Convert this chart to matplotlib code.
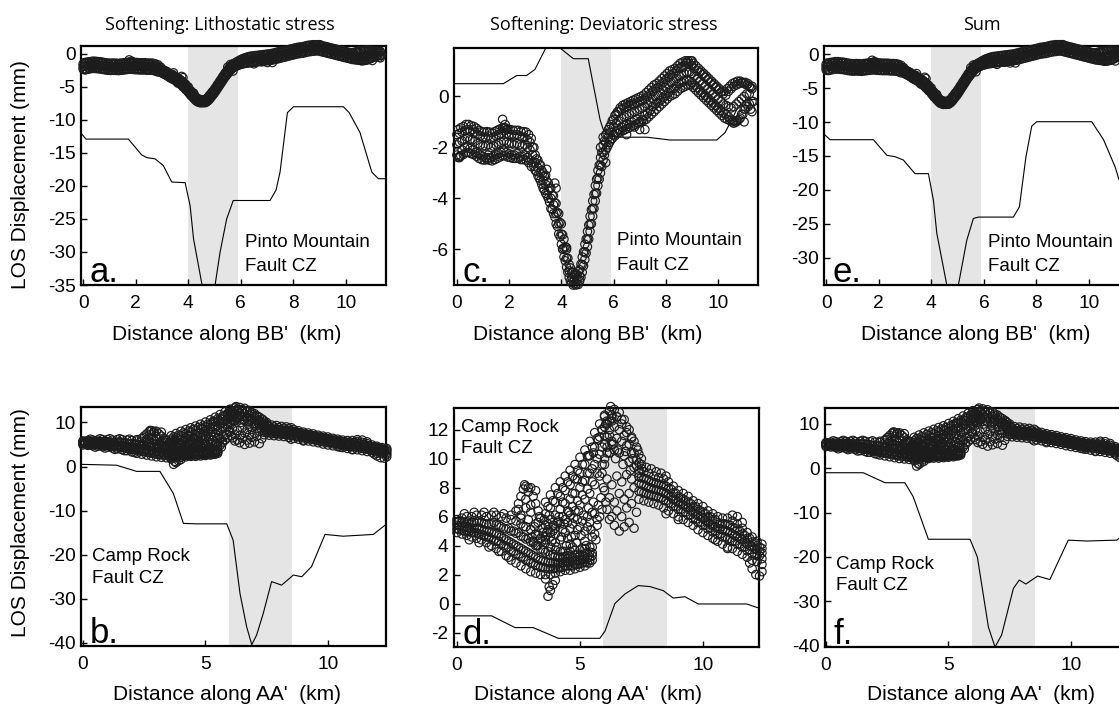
import matplotlib
matplotlib.use('Agg')
import matplotlib.pyplot as plt

plt.rcParams['font.family'] = ['Liberation Sans', 'DejaVu Sans']
plt.rcParams['axes.unicode_minus'] = False

# ---------------- observed LOS data, profile BB' (top row) ----------------
bb_x = [0.0, 0.1, 0.2, 0.3, 0.4, 0.5, 0.6, 0.7, 0.8, 0.9,
        1.0, 1.1, 1.2, 1.3, 1.4, 1.5, 1.6, 1.7, 1.8, 1.9,
        2.0, 2.1, 2.2, 2.3, 2.4, 2.5, 2.6, 2.7, 2.8, 2.9,
        3.0, 3.1, 3.2, 3.3, 3.4, 3.5, 3.6, 3.7, 3.8, 3.9,
        4.0, 4.1, 4.2, 4.3, 4.4, 4.5, 4.6, 4.7, 4.8, 4.9,
        5.0, 5.1, 5.2, 5.3, 5.4, 5.5, 5.6, 5.7, 5.8, 5.9,
        6.0, 6.1, 6.2, 6.3, 6.4, 6.5, 6.6, 6.7, 6.8, 6.9,
        7.0, 7.1, 7.2, 7.3, 7.4, 7.5, 7.6, 7.7, 7.8, 7.9,
        8.0, 8.1, 8.2, 8.3, 8.4, 8.5, 8.6, 8.7, 8.8, 8.9,
        9.0, 9.1, 9.2, 9.3, 9.4, 9.5, 9.6, 9.7, 9.8, 9.9,
        10.0, 10.1, 10.2, 10.3, 10.4, 10.5, 10.6, 10.7, 10.8, 10.9,
        11.0, 11.1, 11.2, 11.3]
bb_hi = [-1.5, -1.45, -1.4, -1.35, -1.3, -1.35, -1.3, -1.4, -1.5, -1.55,
         -1.6, -1.6, -1.55, -1.65, -1.6, -1.55, -1.5, -1.45, -1.35, -1.45,
         -1.5, -1.5, -1.55, -1.5, -1.55, -1.6, -1.6, -1.7, -1.8, -2.0,
         -2.3, -2.5, -2.7, -3.0, -3.1, -3.4, -3.6, -3.9, -4.2, -4.6,
         -5.0, -5.6, -6.0, -6.6, -6.9, -7.0, -7.0, -6.8, -6.3, -5.8,
         -5.3, -4.7, -4.1, -3.5, -2.9, -2.4, -1.9, -1.5, -1.3, -1.1,
         -0.9, -0.7, -0.6, -0.5, -0.45, -0.4, -0.35, -0.3, -0.3, -0.25,
         -0.2, -0.15, -0.1, 0.0, 0.1, 0.2, 0.3, 0.35, 0.45, 0.55,
         0.65, 0.75, 0.85, 0.9, 1.0, 1.1, 1.15, 1.2, 1.3, 1.3,
         1.2, 1.1, 1.0, 0.95, 0.85, 0.75, 0.65, 0.55, 0.45, 0.35,
         0.25, 0.15, 0.1, 0.05, 0.2, 0.3, 0.4, 0.45, 0.5, 0.55,
         0.5, 0.45, 0.4, 0.3]
bb_mid = [-1.9, -1.8, -1.75, -1.7, -1.6, -1.7, -1.7, -1.75, -1.85, -1.9,
          -1.95, -1.95, -1.9, -2.0, -1.95, -1.9, -1.85, -1.8, -1.75, -1.8,
          -1.85, -1.85, -1.9, -1.85, -1.9, -1.95, -1.9, -2.0, -2.1, -2.3,
          -2.6, -2.8, -3.0, -3.3, -3.45, -3.7, -4.0, -4.25, -4.6, -5.0,
          -5.4, -5.95, -6.35, -6.85, -7.1, -7.2, -7.2, -7.05, -6.6, -6.1,
          -5.6, -5.0, -4.4, -3.8, -3.2, -2.7, -2.2, -1.8, -1.6, -1.4,
          -1.2, -1.05, -0.95, -0.85, -0.8, -0.75, -0.7, -0.65, -0.6, -0.55,
          -0.5, -0.45, -0.4, -0.3, -0.2, -0.1, 0.0, 0.05, 0.15, 0.25,
          0.35, 0.45, 0.55, 0.6, 0.7, 0.8, 0.85, 0.9, 0.95, 0.95,
          0.9, 0.8, 0.7, 0.6, 0.5, 0.4, 0.3, 0.2, 0.1, 0.0,
          -0.1, -0.2, -0.3, -0.35, -0.4, -0.45, -0.4, -0.3, -0.2, -0.1,
          0.0, 0.1, 0.1, -0.2]
bb_lo = [-2.3, -2.35, -2.1, -2.0, -1.95, -2.05, -2.1, -2.2, -2.25, -2.3,
         -2.35, -2.4, -2.3, -2.4, -2.35, -2.3, -2.25, -2.2, -2.15, -2.2,
         -2.25, -2.3, -2.3, -2.25, -2.35, -2.35, -2.3, -2.4, -2.5, -2.6,
         -2.9, -3.1, -3.3, -3.6, -3.8, -4.0, -4.4, -4.6, -5.0, -5.4,
         -5.8, -6.3, -6.7, -7.1, -7.3, -7.35, -7.35, -7.25, -6.9, -6.4,
         -5.9, -5.3, -4.7, -4.1, -3.5, -3.0, -2.5, -2.1, -1.9, -1.7,
         -1.5, -1.4, -1.3, -1.2, -1.15, -1.1, -1.1, -1.0, -0.95, -0.9,
         -1.0, -0.9, -0.75, -0.65, -0.55, -0.4, -0.3, -0.25, -0.15, -0.05,
         0.05, 0.15, 0.25, 0.3, 0.4, 0.5, 0.55, 0.6, 0.65, 0.6,
         0.55, 0.45, 0.35, 0.25, 0.15, 0.05, -0.05, -0.15, -0.25, -0.35,
         -0.45, -0.55, -0.65, -0.7, -0.8, -0.9, -0.95, -1.0, -0.9, -0.7,
         -0.5, -0.3, -0.3, -0.6]
bb_x2 = [0.05, 0.15, 0.25, 0.35, 0.45, 0.55, 0.65, 0.75, 0.85, 0.95,
         1.05, 1.15, 1.25, 1.35, 1.45, 1.55, 1.65, 1.75, 1.85, 1.95,
         2.05, 2.15, 2.25, 2.35, 2.45, 2.55, 2.65, 2.75, 2.85, 2.95,
         3.05, 3.15, 3.25, 3.35, 3.45, 3.55, 3.65, 3.75, 3.85, 3.95,
         4.05, 4.15, 4.25, 4.35, 4.45, 4.55, 4.65, 4.75, 4.85, 4.95,
         5.05, 5.15, 5.25, 5.35, 5.45, 5.55, 5.65, 5.75, 5.85, 5.95,
         6.05, 6.15, 6.25, 6.35, 6.45, 6.55, 6.65, 6.75, 6.85, 6.95,
         7.05, 7.15, 7.25, 7.35, 7.45, 7.55, 7.65, 7.75, 7.85, 7.95,
         8.05, 8.15, 8.25, 8.35, 8.45, 8.55, 8.65, 8.75, 8.85, 8.95,
         9.05, 9.15, 9.25, 9.35, 9.45, 9.55, 9.65, 9.75, 9.85, 9.95,
         10.05, 10.15, 10.25, 10.35, 10.45, 10.55, 10.65, 10.75, 10.85, 10.95,
         11.05, 11.15, 11.25]
bb_h2 = [-1.3, -1.23, -1.18, -1.1, -1.1, -1.15, -1.18, -1.25, -1.33, -1.38,
         -1.4, -1.38, -1.4, -1.43, -1.38, -1.33, -1.28, -1.23, -1.23, -1.28,
         -1.3, -1.33, -1.33, -1.33, -1.38, -1.38, -1.4, -1.5, -1.65, -2.0,
         -2.45, -2.65, -2.9, -3.13, -3.33, -3.6, -3.88, -4.18, -4.55, -4.95,
         -5.43, -5.9, -6.35, -6.73, -6.9, -6.95, -6.88, -6.58, -6.1, -5.6,
         -5.05, -4.45, -3.85, -3.25, -2.7, -2.2, -1.75, -1.45, -1.2, -0.95,
         -0.75, -0.6, -0.45, -0.35, -0.3, -0.25, -0.2, -0.15, -0.1, -0.05,
         0.0, 0.05, 0.15, 0.25, 0.35, 0.45, 0.5, 0.6, 0.7, 0.8,
         0.9, 1.0, 1.05, 1.1, 1.2, 1.3, 1.35, 1.4, 1.4, 1.4,
         1.3, 1.2, 1.1, 1.0, 0.9, 0.8, 0.7, 0.6, 0.5, 0.4,
         0.3, 0.2, 0.2, 0.3, 0.4, 0.5, 0.55, 0.6, 0.6, 0.55,
         0.55, 0.5, 0.35]
bb_l2 = [-2.4, -2.33, -2.28, -2.2, -2.2, -2.25, -2.28, -2.35, -2.43, -2.48,
         -2.5, -2.48, -2.5, -2.53, -2.48, -2.43, -2.38, -2.33, -2.33, -2.38,
         -2.4, -2.43, -2.43, -2.43, -2.48, -2.48, -2.5, -2.6, -2.75, -2.75,
         -2.95, -3.2, -3.45, -3.68, -3.88, -4.15, -4.43, -4.73, -5.1, -5.5,
         -5.98, -6.45, -6.9, -7.25, -7.4, -7.4, -7.38, -7.1, -6.65, -6.15,
         -5.6, -5.0, -4.4, -3.8, -3.25, -2.75, -2.3, -2.0, -1.8, -1.65,
         -1.55, -1.45, -1.4, -1.35, -1.3, -1.25, -1.2, -1.15, -1.1, -1.05,
         -1.0, -0.95, -0.9, -0.8, -0.7, -0.6, -0.5, -0.4, -0.3, -0.2,
         -0.1, 0.0, 0.05, 0.1, 0.2, 0.3, 0.35, 0.4, 0.45, 0.45,
         0.35, 0.25, 0.15, 0.05, -0.05, -0.15, -0.25, -0.35, -0.45, -0.55,
         -0.65, -0.75, -0.85, -0.9, -0.95, -1.0, -1.0, -0.95, -0.85, -0.7,
         -0.5, -0.4, -0.5]
bb_extra_x = [1.75, 1.85, 1.9, 1.8, 0.1, 1.2, 3.75, 3.44, 3.8, 4.05, 4.2,
              6.5, 7.0, 7.2, 10.6, 11.0, 11.35, 11.3, 6.8, 9.0, 8.8, 5.6,
              5.7, 5.5]
bb_extra_y = [-0.9, -1.1, -1.3, -1.25, -2.4, -2.4, -3.4, -2.86, -3.6, -6.0,
              -5.93, -1.5, -1.3, -1.3, -1.05, -1.0, -0.2, 0.4, -1.2, 1.4,
              1.35, -1.6, -2.6, -2.0]

# ---------------- observed LOS data, profile AA' (bottom row) ----------------
aa_low_x = [0.0, 0.2, 0.4, 0.6, 0.8, 1.0, 1.2, 1.4, 1.6, 1.8, 2.0, 2.2, 2.4, 2.6,
            2.8, 3.0, 3.2, 3.4, 3.6, 3.8, 4.0, 4.2, 4.4, 4.6, 4.8, 5.0, 5.2, 5.4]
aa_low_hi = [5.8, 5.9, 6.0, 6.0, 6.1, 6.1, 6.0, 6.1, 6.1, 6.0, 5.9, 5.8, 5.7, 5.5,
             5.3, 5.1, 4.8, 4.5, 4.2, 3.9, 3.7, 3.6, 3.6, 3.6, 3.7, 3.7, 3.8, 3.9]
aa_low_q1 = [5.6, 5.6, 5.65, 5.6, 5.65, 5.6, 5.5, 5.5, 5.45, 5.3, 5.15, 5.0, 4.85, 4.65,
             4.45, 4.25, 4.0, 3.75, 3.55, 3.35, 3.25, 3.2, 3.25, 3.25, 3.35, 3.35, 3.45, 3.55]
aa_low_mid = [5.4, 5.3, 5.3, 5.2, 5.2, 5.1, 5.0, 4.9, 4.8, 4.6, 4.4, 4.2, 4.0, 3.8,
              3.6, 3.4, 3.2, 3.0, 2.9, 2.8, 2.8, 2.8, 2.9, 2.9, 3.0, 3.0, 3.1, 3.2]
aa_low_q2 = [5.15, 5.05, 5.0, 4.9, 4.85, 4.75, 4.6, 4.45, 4.3, 4.1, 3.85, 3.6, 3.4, 3.2,
             3.0, 2.8, 2.65, 2.5, 2.45, 2.4, 2.45, 2.5, 2.6, 2.6, 2.7, 2.75, 2.85, 3.0]
aa_low_lo = [4.9, 4.8, 4.7, 4.6, 4.5, 4.4, 4.2, 4.0, 3.8, 3.6, 3.3, 3.0, 2.8, 2.6,
             2.4, 2.2, 2.1, 2.0, 2.0, 2.0, 2.1, 2.2, 2.3, 2.3, 2.4, 2.5, 2.6, 2.8]
aa_low_x2 = [0.1, 0.3, 0.5, 0.7, 0.9, 1.1, 1.3, 1.5, 1.7, 1.9, 2.1, 2.3, 2.5, 2.7,
             2.9, 3.1, 3.3, 3.5, 3.7, 3.9, 4.1, 4.3, 4.5, 4.7, 4.9, 5.1, 5.3, 5.5]
aa_low_m1 = [5.7, 5.6, 5.7, 5.6, 5.7, 5.5, 5.5, 5.6, 5.4, 5.2, 5.2, 5.0, 4.9, 4.6,
             4.5, 4.2, 4.0, 3.7, 3.6, 3.4, 3.2, 3.2, 3.3, 3.2, 3.4, 3.3, 3.5, 3.5]
aa_low_r2 = [5.35, 5.3, 5.25, 5.2, 5.15, 5.05, 4.95, 4.85, 4.7, 4.5, 4.3, 4.1, 3.9, 3.7,
             3.5, 3.3, 3.1, 2.95, 2.85, 2.8, 2.8, 2.85, 2.9, 2.95, 3.0, 3.05, 3.15, 3.3]
aa_low_m2 = [5.1, 5.0, 5.0, 4.9, 4.8, 4.7, 4.6, 4.4, 4.3, 4.0, 3.9, 3.6, 3.4, 3.2,
             3.0, 2.8, 2.6, 2.5, 2.4, 2.4, 2.4, 2.5, 2.6, 2.6, 2.7, 2.8, 2.8, 3.0]

aa_rise_x = [3.6, 3.8, 4.0, 4.2, 4.4, 4.6, 4.8, 5.0, 5.2, 5.4, 5.6, 5.8, 6.0, 6.2]
aa_rise_hi = [7.0, 7.5, 8.0, 8.4, 8.8, 9.2, 9.6, 10.1, 10.6, 11.2, 11.8, 12.4, 12.9, 13.3]
aa_rise_m1 = [6.2, 6.6, 7.0, 7.4, 7.8, 8.2, 8.6, 9.0, 9.6, 10.2, 10.8, 11.5, 12.2, 12.6]
aa_rise_m2 = [5.4, 5.8, 6.1, 6.5, 6.9, 7.2, 7.6, 8.0, 8.5, 9.0, 9.6, 10.3, 11.0, 11.6]
aa_rise_lo = [4.6, 4.9, 5.2, 5.5, 5.8, 6.1, 6.4, 6.8, 7.2, 7.6, 8.2, 8.8, 9.6, 10.4]
aa_rise_x2 = [3.7, 3.9, 4.1, 4.3, 4.5, 4.7, 4.9, 5.1, 5.3, 5.5, 5.7, 5.9, 6.1, 6.3]
aa_rise_a = [6.7, 7.1, 7.6, 8.0, 8.4, 8.8, 9.2, 9.6, 10.2, 10.8, 11.4, 12.0, 12.6, 13.0]
aa_rise_b = [5.1, 5.4, 5.7, 6.0, 6.4, 6.7, 7.1, 7.5, 7.9, 8.4, 9.0, 9.6, 10.4, 11.0]

aa_peak_x = [6.0, 6.2, 6.4, 6.6, 6.8, 7.0, 7.2, 7.4]
aa_peak_hi = [13.0, 13.3, 13.4, 13.2, 12.7, 12.0, 11.2, 10.3]
aa_peak_mid = [11.6, 12.0, 12.2, 12.0, 11.6, 11.0, 10.4, 9.7]
aa_peak_lo = [10.0, 10.4, 10.6, 10.4, 10.2, 9.8, 9.4, 9.0]
aa_peak_x2 = [6.1, 6.3, 6.5, 6.7, 6.9, 7.1, 7.3, 7.5]
aa_peak_a = [12.4, 12.8, 12.9, 12.7, 12.2, 11.5, 10.8, 10.0]
aa_peak_b = [10.8, 11.2, 11.4, 11.2, 10.9, 10.4, 9.9, 9.3]

aa_fall_x = [7.4, 7.6, 7.8, 8.0, 8.2, 8.4, 8.6, 8.8, 9.0, 9.2, 9.4, 9.6, 9.8,
             10.0, 10.2, 10.4, 10.6, 10.8, 11.0, 11.2, 11.4, 11.6, 11.8, 12.0, 12.2, 12.4]
aa_fall_hi = [9.2, 9.1, 9.0, 8.8, 8.7, 8.6, 8.4, 8.1, 7.8, 7.6, 7.4, 7.1, 6.9,
              6.7, 6.4, 6.2, 6.0, 5.9, 5.9, 5.7, 5.5, 5.2, 4.9, 4.6, 4.3, 4.1]
aa_fall_q1 = [8.75, 8.65, 8.5, 8.35, 8.25, 8.15, 7.95, 7.65, 7.4, 7.2, 7.0, 6.7, 6.5,
              6.3, 6.0, 5.8, 5.6, 5.5, 5.45, 5.25, 5.05, 4.8, 4.5, 4.25, 4.0, 3.8]
aa_fall_mid = [8.3, 8.2, 8.0, 7.9, 7.8, 7.7, 7.5, 7.2, 7.0, 6.8, 6.6, 6.3, 6.1,
               5.9, 5.6, 5.4, 5.2, 5.1, 5.0, 4.8, 4.6, 4.4, 4.1, 3.9, 3.7, 3.5]
aa_fall_q2 = [7.75, 7.65, 7.5, 7.4, 7.3, 7.15, 6.95, 6.7, 6.5, 6.3, 6.1, 5.85, 5.6,
              5.4, 5.15, 4.95, 4.75, 4.6, 4.45, 4.3, 4.1, 3.9, 3.65, 3.45, 3.3, 3.1]
aa_fall_lo = [7.2, 7.1, 7.0, 6.9, 6.8, 6.6, 6.4, 6.2, 6.0, 5.8, 5.6, 5.4, 5.1,
              4.9, 4.7, 4.5, 4.3, 4.1, 3.9, 3.8, 3.6, 3.4, 3.2, 3.0, 2.9, 2.7]
aa_fall_x2 = [7.5, 7.7, 7.9, 8.1, 8.3, 8.5, 8.7, 8.9, 9.1, 9.3, 9.5, 9.7, 9.9,
              10.1, 10.3, 10.5, 10.7, 10.9, 11.1, 11.3, 11.5, 11.7, 11.9, 12.1, 12.3]
aa_fall_a = [8.7, 8.6, 8.4, 8.3, 8.2, 8.1, 7.9, 7.6, 7.3, 7.1, 6.9, 6.7, 6.4,
             6.2, 6.0, 5.8, 5.5, 5.5, 5.4, 5.2, 5.0, 4.7, 4.5, 4.2, 3.9]
aa_fall_r2 = [8.25, 8.1, 7.95, 7.85, 7.75, 7.6, 7.35, 7.1, 6.9, 6.7, 6.45, 6.2, 6.0,
              5.75, 5.5, 5.3, 5.15, 5.05, 4.9, 4.7, 4.5, 4.25, 4.0, 3.8, 3.6]
aa_fall_b = [7.7, 7.6, 7.5, 7.4, 7.3, 7.1, 6.9, 6.7, 6.5, 6.3, 6.1, 5.8, 5.6,
             5.4, 5.2, 5.0, 4.8, 4.6, 4.5, 4.3, 4.1, 3.9, 3.7, 3.4, 3.3]

aa_cloud_x = [2.4, 2.5, 2.6, 2.7, 2.8, 2.9, 3.0, 3.1, 3.2, 2.8, 3.0, 3.3, 3.4, 2.6,
              2.9, 3.2, 3.5, 3.0, 3.3, 2.7, 3.6, 3.8, 4.0, 4.2, 4.4, 4.6, 4.8, 5.0,
              5.2, 5.4, 5.6, 5.3, 4.9, 4.5, 5.7, 5.5, 5.8, 4.3, 4.7, 5.1, 5.5,
              5.9, 6.1, 6.3, 6.5, 6.7, 6.9, 7.1, 6.0, 6.2, 6.4, 6.6, 6.8, 7.0,
              7.2, 6.1, 6.3, 6.5, 6.7, 6.9, 7.1, 6.4, 6.6, 6.8, 7.0, 7.2, 6.2,
              6.05, 7.3, 3.7, 3.8, 3.9, 3.75, 3.6, 4.0, 12.0, 12.15, 12.3, 12.4, 11.9]
aa_cloud_y = [6.4, 6.9, 7.4, 7.9, 8.1, 7.7, 8.0, 7.4, 6.9, 6.6, 6.3, 6.4, 5.9, 6.1,
              5.8, 5.5, 5.2, 5.1, 4.7, 5.3, 4.4, 4.6, 4.8, 4.4, 4.9, 5.2, 4.7, 5.3,
              5.0, 5.6, 6.2, 6.0, 5.8, 5.6, 5.4, 4.6, 6.0, 3.6, 3.9, 3.8, 3.9,
              9.0, 8.6, 8.2, 8.8, 8.4, 8.9, 8.6, 7.8, 7.3, 7.0, 7.6, 7.2, 7.6,
              8.0, 6.5, 6.0, 6.4, 6.0, 6.6, 6.9, 5.4, 5.0, 5.3, 5.6, 5.2, 5.8,
              7.0, 6.3, 0.5, 0.9, 1.3, 1.15, 1.7, 1.6, 2.4, 2.0, 1.9, 2.2, 2.8]
aa_cloud2_x = [3.1, 3.3, 3.5, 3.7, 3.9, 4.1, 4.3, 4.5, 4.7, 4.9, 5.1, 5.3, 5.5, 5.7,
               4.0, 4.6, 5.2, 5.6, 5.9, 3.4, 2.6, 2.8, 3.0, 2.5, 3.2, 2.9, 2.75,
               4.3, 4.7, 5.1, 5.5, 5.9, 4.9, 5.3, 5.7, 6.1,
               6.3, 6.5, 6.7, 6.9, 7.1, 6.45, 6.75, 7.05, 7.3, 6.25,
               7.5, 7.7, 7.9, 8.1, 8.3, 8.5,
               8.5, 9.0, 10.5, 11.0, 11.4, 11.6, 11.2]
aa_cloud2_y = [4.3, 5.6, 4.9, 5.5, 5.0, 5.6, 5.1, 4.5, 5.5, 5.1, 5.7, 5.3, 6.3, 5.8,
               4.2, 4.1, 4.3, 4.8, 6.5, 4.5, 5.9, 7.2, 6.8, 6.5, 7.8, 8.0, 8.2,
               7.0, 7.6, 8.4, 9.3, 10.8, 8.6, 9.0, 10.0, 11.5,
               12.6, 12.9, 12.4, 11.8, 11.4, 10.0, 9.6, 9.2, 9.5, 13.6,
               9.6, 9.4, 9.3, 9.1, 9.0, 8.8,
               6.2, 5.8, 4.4, 3.8, 6.0, 5.6, 6.1]
aa_cloud3_x = [3.05, 3.15, 3.25, 3.35, 3.45, 3.55, 3.65, 3.75, 3.85, 3.95,
               4.05, 4.15, 4.25, 4.35, 4.45, 4.55, 4.65, 4.75, 4.85, 4.95,
               5.05, 5.15, 5.25, 5.35, 5.45, 5.55, 5.65, 5.75, 5.85, 5.95,
               0.3, 0.7, 1.1, 1.5, 1.9, 2.2, 0.5, 0.9, 1.3, 1.7, 2.1,
               5.9, 6.05, 6.35, 6.55, 6.85, 7.15, 7.35, 5.75, 5.55, 5.35]
aa_cloud3_y = [4.6, 5.3, 4.0, 6.0, 4.3, 5.8, 4.9, 6.1, 4.3, 5.4,
               3.9, 6.0, 4.6, 5.5, 4.0, 6.3, 4.6, 5.9, 4.2, 6.4,
               4.7, 6.1, 4.0, 6.6, 5.1, 7.0, 4.4, 6.8, 7.3, 8.0,
               6.2, 6.3, 6.3, 6.3, 6.2, 6.1, 4.4, 4.2, 3.9, 3.6, 3.2,
               12.0, 12.4, 11.0, 10.6, 10.5, 10.0, 10.6, 11.3, 10.4, 10.2]

# ---------------- model curves ----------------
la_x = [-0.1, 0.11, 1.72, 2.23, 2.42, 2.74, 3.05, 3.37, 3.88, 4.07, 4.2, 4.51, 4.76,
        5.02, 5.21, 5.46, 5.71, 7.11, 7.34, 7.49, 7.77, 8.0, 9.9, 10.12, 10.53,
        10.98, 11.23, 11.6]
la_y = [-11.9, -12.9, -12.9, -15.3, -15.7, -15.9, -16.9, -19.4, -19.5, -23.0, -28.0,
        -34.7, -40.0, -35.0, -30.0, -25.0, -22.2, -22.2, -20.6, -17.9, -8.9, -8.0,
        -8.0, -8.9, -11.9, -17.9, -18.9, -18.9]
lc_x = [-0.12, 1.78, 2.29, 2.67, 2.99, 3.44, 3.7, 3.95, 4.46, 5.03, 5.48, 5.6, 5.86,
        6.25, 7.27, 8.16, 9.95, 10.27, 10.72, 11.1, 11.6]
lc_y = [0.5, 0.5, 0.82, 0.82, 1.06, 1.97, 2.2, 1.9, 1.48, 1.48, -0.9, -1.29, -1.56,
        -1.6, -1.6, -1.71, -1.71, -1.42, -0.51, -0.12, -0.12]
le_x = [-0.1, 0.15, 1.8, 2.31, 2.62, 2.94, 3.38, 3.89, 4.08, 4.21, 4.59, 4.81, 5.03,
        5.35, 5.6, 5.79, 7.12, 7.35, 7.6, 7.82, 8.01, 10.1, 10.55, 10.99, 11.14,
        11.3, 11.6]
le_y = [-11.7, -12.6, -12.6, -14.9, -15.1, -15.6, -17.6, -17.6, -21.5, -26.4, -34.0,
        -38.5, -34.0, -27.4, -24.2, -24.0, -24.0, -22.5, -15.1, -10.6, -9.95, -9.95,
        -12.6, -16.6, -18.5, -19.3, -19.3]
lb_x = [-0.1, 1.37, 2.19, 3.14, 3.69, 4.1, 4.64, 5.87, 6.13, 6.41, 6.68, 6.89, 7.09,
        7.36, 7.7, 8.11, 8.59, 8.93, 9.33, 9.88, 10.62, 11.85, 12.4]
lb_y = [0.5, 0.3, -1.1, -1.1, -6.1, -12.9, -13.0, -13.0, -16.7, -28.8, -36.3, -40.4,
        -38.2, -33.3, -26.1, -26.9, -24.6, -25.0, -22.7, -15.4, -15.8, -15.4, -13.0]
ld_x = [-0.12, 1.41, 2.36, 3.1, 4.12, 5.81, 6.02, 6.42, 6.83, 7.37, 7.85, 8.39, 8.79,
        9.27, 9.81, 11.78, 12.25, 12.4]
ld_y = [-0.85, -0.85, -1.66, -1.66, -2.4, -2.4, -1.9, 0.0, 0.66, 1.24, 1.17, 0.89,
        0.38, 0.47, -0.03, -0.03, -0.3, -0.4]
lf_x = [-0.1, 1.52, 2.41, 3.22, 3.56, 4.18, 5.88, 6.18, 6.63, 6.9, 7.17, 7.65, 7.89,
        8.16, 8.64, 9.14, 9.89, 10.64, 11.87, 12.4]
lf_y = [-1.0, -1.0, -3.25, -3.25, -6.4, -16.0, -16.0, -20.0, -35.8, -40.3, -37.6,
        -27.1, -25.2, -26.1, -24.3, -25.1, -16.2, -16.4, -16.2, -14.0]

# shaded fault zones (km)
zone_top = [4.0, 5.9]
zone_bottom = [5.95, 8.55]

titles = ["Softening: Lithostatic stress", "Softening: Deviatoric stress", "Sum"]
xlabel_top = "Distance along BB'  (km)"
xlabel_bottom = "Distance along AA'  (km)"
ylabel = "LOS Displacement (mm)"

W, H = 1119, 705
fig = plt.figure(figsize=(W / 100, H / 100), dpi=100)


def rect(l, t, r, b):
    return [l / W, 1 - b / H, (r - l) / W, (b - t) / H]


def fx(px):
    return px / W


def fy(py):
    return 1 - py / H


bb_rows = [(bb_x, bb_hi), (bb_x, bb_mid), (bb_x, bb_lo),
           (bb_x2, bb_h2), (bb_x2, bb_l2), (bb_extra_x, bb_extra_y)]
aa_rows = [(aa_low_x, aa_low_hi), (aa_low_x, aa_low_q1), (aa_low_x, aa_low_mid),
           (aa_low_x, aa_low_q2), (aa_low_x, aa_low_lo),
           (aa_low_x2, aa_low_m1), (aa_low_x2, aa_low_r2), (aa_low_x2, aa_low_m2),
           (aa_rise_x, aa_rise_hi), (aa_rise_x, aa_rise_m1), (aa_rise_x, aa_rise_m2),
           (aa_rise_x, aa_rise_lo), (aa_rise_x2, aa_rise_a), (aa_rise_x2, aa_rise_b),
           (aa_peak_x, aa_peak_hi), (aa_peak_x, aa_peak_mid), (aa_peak_x, aa_peak_lo),
           (aa_peak_x2, aa_peak_a), (aa_peak_x2, aa_peak_b),
           (aa_fall_x, aa_fall_hi), (aa_fall_x, aa_fall_q1), (aa_fall_x, aa_fall_mid),
           (aa_fall_x, aa_fall_q2), (aa_fall_x, aa_fall_lo),
           (aa_fall_x2, aa_fall_a), (aa_fall_x2, aa_fall_r2), (aa_fall_x2, aa_fall_b),
           (aa_cloud_x, aa_cloud_y), (aa_cloud2_x, aa_cloud2_y),
           (aa_cloud3_x, aa_cloud3_y)]

top_ls = 1.55
bot_ls = 1.35
panels = [
    dict(r=rect(81, 46, 386, 285), rows=bb_rows, lx=la_x, ly=la_y, zone=zone_top,
         xlim=(-0.08, 11.52), ylim=(-35, 1.2), xt=[0, 2, 4, 6, 8, 10],
         yt=[0, -5, -10, -15, -20, -25, -30, -35], letter='a.',
         ftxt='Pinto Mountain\nFault CZ', fpos=(0.538, 0.212), ls=top_ls),
    dict(r=rect(454, 48, 758, 285), rows=bb_rows, lx=lc_x, ly=lc_y, zone=zone_top,
         xlim=(-0.11, 11.53), ylim=(-7.4, 1.9), xt=[0, 2, 4, 6, 8, 10],
         yt=[0, -2, -4, -6], letter='c.',
         ftxt='Pinto Mountain\nFault CZ', fpos=(0.537, 0.222), ls=top_ls),
    dict(r=rect(824, 46, 1128, 285), rows=bb_rows, lx=le_x, ly=le_y, zone=zone_top,
         xlim=(-0.08, 11.48), ylim=(-34, 1.2), xt=[0, 2, 4, 6, 8, 10],
         yt=[0, -5, -10, -15, -20, -25, -30], letter='e.',
         ftxt='Pinto Mountain\nFault CZ', fpos=(0.54, 0.212), ls=top_ls),
    dict(r=rect(81, 407, 386, 646), rows=aa_rows, lx=lb_x, ly=lb_y, zone=zone_bottom,
         xlim=(-0.08, 12.37), ylim=(-40.7, 13.5), xt=[0, 5, 10],
         yt=[10, 0, -10, -20, -30, -40], letter='b.',
         ftxt='Camp Rock\nFault CZ', fpos=(0.035, 0.41), ls=bot_ls),
    dict(r=rect(454, 408, 759, 647), rows=aa_rows, lx=ld_x, ly=ld_y, zone=zone_bottom,
         xlim=(-0.12, 12.28), ylim=(-3.0, 13.5), xt=[0, 5, 10],
         yt=[-2, 0, 2, 4, 6, 8, 10, 12], letter='d.',
         ftxt='Camp Rock\nFault CZ', fpos=(0.023, 0.955), ls=bot_ls),
    dict(r=rect(825, 408, 1129, 647), rows=aa_rows, lx=lf_x, ly=lf_y, zone=zone_bottom,
         xlim=(-0.04, 12.37), ylim=(-40.3, 13.6), xt=[0, 5, 10],
         yt=[10, 0, -10, -20, -30, -40], letter='f.',
         ftxt='Camp Rock\nFault CZ', fpos=(0.035, 0.382), ls=bot_ls),
]

for p in panels:
    ax = fig.add_axes(p['r'])
    ax.axvspan(p['zone'][0], p['zone'][1], color='#e5e5e5', lw=0, zorder=0)
    ax.plot(p['lx'], p['ly'], color='black', lw=0.8, zorder=2)
    for xs, ys in p['rows']:
        ax.scatter(xs, ys, s=36, facecolors='none', edgecolors='#1c1c1c',
                   linewidths=0.85, zorder=3, clip_on=False)
    ax.set_xlim(*p['xlim'])
    ax.set_ylim(*p['ylim'])
    ax.set_xticks(p['xt'])
    ax.set_yticks(p['yt'])
    ax.set_xticklabels([str(v) for v in p['xt']])
    ax.set_yticklabels([str(v) for v in p['yt']])
    ax.tick_params(direction='in', length=4, width=1, labelsize=13.8,
                   top=False, right=False)
    ax.tick_params(axis='x', pad=7)
    ax.tick_params(axis='y', pad=4)
    for s in ax.spines.values():
        s.set_linewidth(1.6)
    ax.text(0.028, 0.013, p['letter'], transform=ax.transAxes, fontsize=25,
            ha='left', va='baseline', zorder=5)
    ax.text(p['fpos'][0], p['fpos'][1], p['ftxt'], transform=ax.transAxes,
            fontsize=13.5, ha='left', va='top', linespacing=p['ls'], zorder=5)

# titles
for txt, cx in zip(titles, [220, 604, 982]):
    fig.text(fx(cx), fy(29.5), txt, ha='center', va='baseline', fontsize=13,
             family=['Open Sans', 'DejaVu Sans'])

# x labels
for cx in [227, 588, 976]:
    fig.text(fx(cx), fy(340), xlabel_top, ha='center', va='baseline', fontsize=15)
for cx in [227, 588, 981]:
    fig.text(fx(cx), fy(700), xlabel_bottom, ha='center', va='baseline', fontsize=15)

# y labels
for cy in [175, 523]:
    fig.text(fx(21), fy(cy), ylabel, ha='center', va='center', rotation=90,
             fontsize=15)

fig.savefig('out.png', dpi=100)
